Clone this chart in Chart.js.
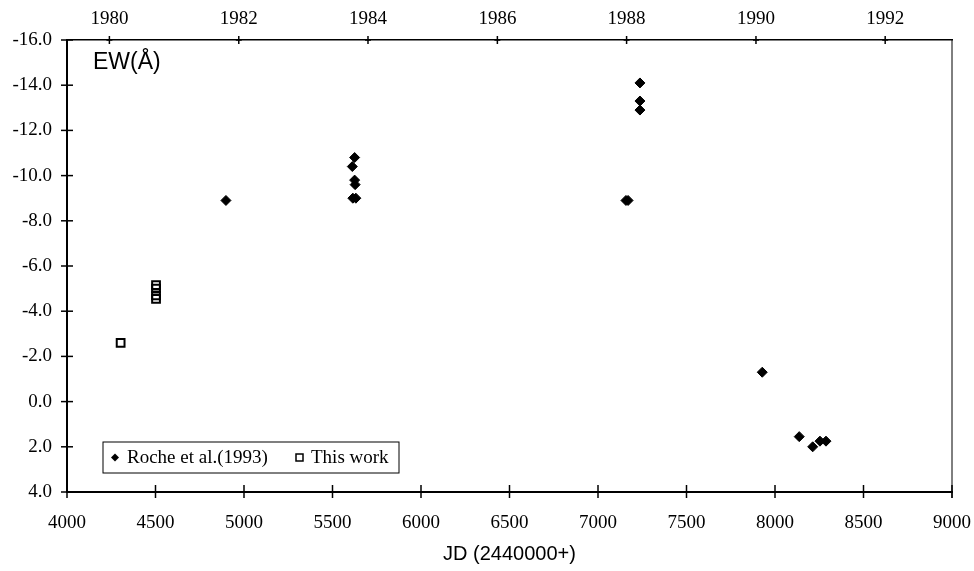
<!DOCTYPE html>
<html lang="en">
<head>
  <meta charset="UTF-8">
  <title>EW vs JD</title>
  <script src="https://cdn.jsdelivr.net/npm/chart.js"></script>
  <style>
    body {
      margin: 0;
      background-color: #fff;
    }
    canvas {
      display: block;
    }
  </style>
</head>
<body>

  <canvas id="grafico" width="974" height="571"></canvas>

  <script>
    // Roche et al. (1993)
    const rocheJD = [4898, 5625, 5612, 5625, 5628, 5615, 5632, 7158, 7170, 7237, 7237, 7237, 7928, 8137, 8213, 8254, 8288];
    const rocheEW = [-8.9, -10.8, -10.4, -9.8, -9.6, -9.0, -9.0, -8.9, -8.9, -14.1, -13.3, -12.9, -1.3, 1.55, 2.0, 1.75, 1.75];

    // This work
    const thisJD = [4303, 4503, 4503, 4503, 4503];
    const thisEW = [-2.6, -5.15, -5.0, -4.7, -4.55];

    // top axis: years (JD - 2440000 at Jan 1)
    const yearLabels = ['1980', '1982', '1984', '1986', '1988', '1990', '1992'];
    const yearJD = [4239.5, 4970.5, 5700.5, 6431.5, 7161.5, 7892.5, 8622.5];

    const serif = 'Liberation Serif';
    const sans = 'Liberation Sans';

    function pontos(xs, ys) {
      return xs.map((x, i) => ({ x: x, y: ys[i] }));
    }

    function semPadding(s, h) {
      s.height = h;
      s.paddingLeft = 0;
      s.paddingRight = 0;
    }

    // cross ticks, right border, legend and EW label
    const extras = {
      id: 'extras',
      afterDraw(chart) {
        const ctx = chart.ctx;
        const a = chart.chartArea;
        ctx.save();
        ctx.strokeStyle = '#000';
        ctx.lineWidth = 1.5;

        chart.scales.x.ticks.forEach(t => {
          const px = chart.scales.x.getPixelForValue(t.value);
          ctx.beginPath();
          ctx.moveTo(px, a.bottom - 7);
          ctx.lineTo(px, a.bottom + 6);
          ctx.stroke();
        });
        chart.scales.x2.ticks.forEach(t => {
          const px = chart.scales.x2.getPixelForValue(t.value);
          ctx.beginPath();
          ctx.moveTo(px, a.top - 4);
          ctx.lineTo(px, a.top + 4);
          ctx.stroke();
          ctx.beginPath();
          ctx.moveTo(px - 3, a.top);
          ctx.lineTo(px + 3, a.top);
          ctx.stroke();
        });
        chart.scales.y.ticks.forEach(t => {
          const py = chart.scales.y.getPixelForValue(t.value);
          ctx.beginPath();
          ctx.moveTo(a.left - 6, py);
          ctx.lineTo(a.left + 6, py);
          ctx.stroke();
        });

        // right border
        ctx.lineWidth = 1;
        ctx.beginPath();
        ctx.moveTo(a.right, a.top);
        ctx.lineTo(a.right, a.bottom + 6);
        ctx.stroke();

        // EW label
        ctx.fillStyle = '#000';
        ctx.font = '23px "' + sans + '"';
        ctx.textAlign = 'left';
        ctx.textBaseline = 'middle';
        ctx.fillText('EW(Å)', a.left + 26, a.top + 23);

        // legend
        const lx = a.left + 36, ly = a.bottom - 50, lw = 296, lh = 31;
        ctx.fillStyle = '#fff';
        ctx.fillRect(lx, ly, lw, lh);
        ctx.lineWidth = 1;
        ctx.strokeRect(lx, ly, lw, lh);
        const cy = ly + lh / 2;
        ctx.fillStyle = '#000';
        ctx.beginPath();
        ctx.moveTo(lx + 12 - 4, cy);
        ctx.lineTo(lx + 12, cy - 4);
        ctx.lineTo(lx + 12 + 4, cy);
        ctx.lineTo(lx + 12, cy + 4);
        ctx.closePath();
        ctx.fill();
        ctx.font = '19px "' + serif + '"';
        ctx.fillText(chart.data.datasets[0].label, lx + 24, cy + 1);
        ctx.lineWidth = 1.5;
        ctx.strokeRect(lx + 193, cy - 3.5, 7, 7);
        ctx.fillText(chart.data.datasets[1].label, lx + 208, cy + 1);
        ctx.restore();
      }
    };

    const ctx = document.getElementById('grafico').getContext('2d');
    new Chart(ctx, {
      type: 'scatter',
      data: {
        datasets: [
          {
            label: 'Roche et al.(1993)',
            data: pontos(rocheJD, rocheEW),
            pointStyle: 'rectRot',
            pointRadius: 5,
            backgroundColor: '#000',
            borderColor: '#000',
            borderWidth: 1
          },
          {
            label: 'This work',
            data: pontos(thisJD, thisEW),
            pointStyle: 'rect',
            pointRadius: 5.5,
            backgroundColor: 'rgba(255,255,255,0)',
            borderColor: '#000',
            borderWidth: 2
          }
        ]
      },
      options: {
        responsive: false,
        animation: false,
        layout: { padding: { left: 0, right: 22, top: 0, bottom: 0 } },
        plugins: {
          legend: { display: false },
          tooltip: { enabled: false }
        },
        scales: {
          x: {
            type: 'linear',
            position: 'bottom',
            min: 4000,
            max: 9000,
            afterFit: s => semPadding(s, 79),
            ticks: {
              stepSize: 500,
              padding: 20,
              color: '#000',
              font: { family: serif, size: 19 },
              callback: v => String(v)
            },
            grid: { display: false, drawTicks: false },
            border: { display: true, color: '#000', width: 2 },
            title: {
              display: true,
              text: 'JD (2440000+)',
              color: '#000',
              font: { family: sans, size: 20 },
              padding: { top: 4, bottom: 5 }
            }
          },
          x2: {
            type: 'linear',
            position: 'top',
            min: 4000,
            max: 9000,
            afterFit: s => semPadding(s, 40),
            afterBuildTicks: s => { s.ticks = yearJD.map(v => ({ value: v })); },
            ticks: {
              padding: 10,
              color: '#000',
              font: { family: serif, size: 19 },
              callback: v => yearLabels[yearJD.indexOf(v)]
            },
            grid: { display: false, drawTicks: false },
            border: { display: true, color: '#000', width: 1.5 }
          },
          y: {
            type: 'linear',
            reverse: true,
            min: -16,
            max: 4,
            afterFit: s => { s.width = 67; },
            ticks: {
              stepSize: 2,
              padding: 15,
              color: '#000',
              font: { family: serif, size: 19 },
              callback: v => v.toFixed(1)
            },
            grid: { display: false, drawTicks: false },
            border: { display: true, color: '#000', width: 2 }
          }
        }
      },
      plugins: [extras]
    });
  </script>

</body>
</html>
